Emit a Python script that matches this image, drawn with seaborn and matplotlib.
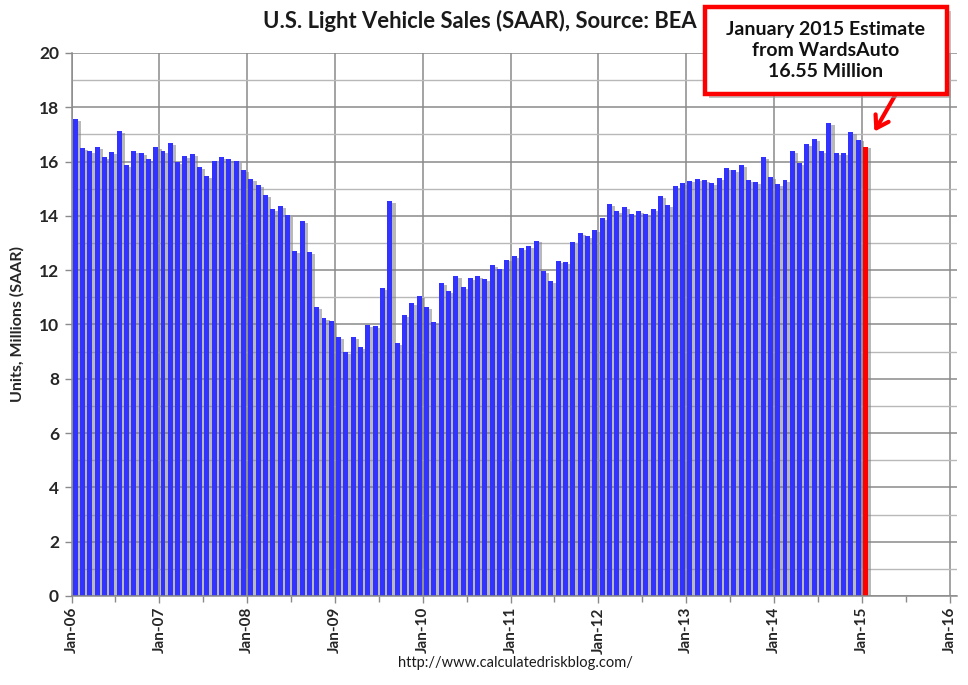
import numpy as np
import pandas as pd
import matplotlib
matplotlib.use("Agg")
import matplotlib.pyplot as plt
import matplotlib.patheffects as pe
from matplotlib.patches import Rectangle
import seaborn as sns

# ---- data (millions, SAAR), monthly Jan-2006 .. Jan-2015 ----
sales_2006 = [17.57, 16.50, 16.39, 16.54, 16.17, 16.35, 17.13, 15.87, 16.39, 16.32, 16.10, 16.54]
sales_2007 = [16.39, 16.68, 15.98, 16.21, 16.28, 15.80, 15.47, 16.02, 16.17, 16.10, 16.02, 15.69]
sales_2008 = [15.36, 15.14, 14.77, 14.25, 14.36, 14.03, 12.71, 13.81, 12.67, 10.64, 10.24, 10.13]
sales_2009 = [9.54, 8.99, 9.54, 9.17, 9.98, 9.94, 11.34, 14.55, 9.32, 10.35, 10.79, 11.05]
sales_2010 = [10.64, 10.09, 11.53, 11.23, 11.79, 11.38, 11.71, 11.79, 11.68, 12.19, 12.04, 12.38]
sales_2011 = [12.52, 12.82, 12.89, 13.08, 11.97, 11.60, 12.34, 12.30, 13.04, 13.37, 13.26, 13.48]
sales_2012 = [13.92, 14.44, 14.18, 14.33, 14.07, 14.18, 14.07, 14.25, 14.73, 14.40, 15.10, 15.21]
sales_2013 = [15.29, 15.36, 15.32, 15.21, 15.40, 15.76, 15.69, 15.87, 15.32, 15.25, 16.17, 15.43]
sales_2014 = [15.17, 15.32, 16.39, 15.95, 16.65, 16.83, 16.39, 17.42, 16.32, 16.32, 17.09, 16.80]
sales_2015 = [16.55]  # WardsAuto estimate

tick_years = ["06", "07", "08", "09", "10", "11", "12", "13", "14", "15", "16"]
tick_labels = ["Jan-" + y for y in tick_years]

values = (sales_2006 + sales_2007 + sales_2008 + sales_2009 + sales_2010 +
          sales_2011 + sales_2012 + sales_2013 + sales_2014 + sales_2015)
kind = ["BEA"] * (len(values) - len(sales_2015)) + ["Estimate"] * len(sales_2015)
df = pd.DataFrame({"month": np.arange(len(values)), "sales": values, "kind": kind})

# ---- style ----
sns.set_theme(style="white")
plt.rcParams["font.family"] = ["Lato", "DejaVu Sans"]

fig = plt.figure(figsize=(9.68, 6.85), dpi=100)
ax = fig.add_axes([0.0739, 0.130, 0.9147, 0.7927])

sns.barplot(data=df, x="month", y="sales", hue="kind", native_scale=True,
            palette={"BEA": "#3333FF", "Estimate": "#FF0000"}, dodge=False,
            width=0.68, legend=False, ax=ax, linewidth=0, saturation=1)

for p in ax.patches:
    p.set_path_effects([pe.SimplePatchShadow(offset=(2.4, -1.2), shadow_rgbFace="#808080", alpha=0.55),
                        pe.Normal()])

ax.set_xlim(-0.5, 120.5)
ax.set_ylim(0, 20)
major_x = [-0.5 + 12 * i for i in range(len(tick_labels))]
ax.set_xticks(major_x)
ax.set_xticklabels(tick_labels, rotation=90, fontsize=11, fontweight="bold")
ax.set_xticks([5.5 + 12 * i for i in range(len(tick_labels) - 1)], minor=True)
ax.set_yticks(np.arange(0, 21, 2))
ax.set_yticklabels([str(v) for v in range(0, 21, 2)], fontsize=12.5, fontweight="bold")
ax.set_yticks(np.arange(1, 20, 2), minor=True)

ax.grid(True, which="major", axis="both", color="#8a8a8a", linewidth=1.1)
ax.grid(True, which="minor", axis="y", color="#b8b8b8", linewidth=1.0)
ax.set_axisbelow(True)

ax.tick_params(axis="x", which="major", direction="out", length=5, width=1, color="#8a8a8a", pad=3, bottom=True)
ax.tick_params(axis="x", which="minor", direction="out", length=4, width=1, color="#8a8a8a", bottom=True)
ax.tick_params(axis="y", which="major", direction="out", length=5, width=1, color="#8a8a8a", pad=4, left=True)
ax.tick_params(axis="y", which="minor", length=0)

for s in ["top", "right"]:
    ax.spines[s].set_visible(False)
for s in ["left", "bottom"]:
    ax.spines[s].set_color("#8a8a8a")
    ax.spines[s].set_linewidth(1.1)

ax.set_xlabel("")
ax.set_ylabel("Units, Millions (SAAR)", fontsize=11.5, fontweight="bold", labelpad=10)

fig.text(0.496, 0.970, "U.S. Light Vehicle Sales (SAAR), Source: BEA", ha="center", va="center",
         fontsize=15.8, fontweight="bold", color="#1a1a1a")
fig.text(0.532, 0.032, "http://www.calculatedriskblog.com/", ha="center", va="center",
         fontsize=10.5, color="#1a1a1a")

# ---- callout box ----
bx, by, bw, bh = 705 / 968, 1 - 94 / 685, 242 / 968, 87 / 685
fig.patches.append(Rectangle((bx + 4 / 968, by - 4 / 685), bw, bh, transform=fig.transFigure,
                             facecolor="#9a9a9a", edgecolor="none", alpha=0.6, zorder=5))
fig.patches.append(Rectangle((bx, by), bw, bh, transform=fig.transFigure,
                             facecolor="white", edgecolor="#FF0000", linewidth=3.2, zorder=6))
fig.text(bx + bw / 2, by + bh / 2, "January 2015 Estimate\nfrom WardsAuto\n16.55 Million",
         ha="center", va="center", fontsize=14, fontweight="bold", color="#111111",
         linespacing=1.28, zorder=7)

ax.annotate("", xy=(873 / 968, 1 - 134 / 685), xycoords="figure fraction",
            xytext=(897 / 968, 1 - 92 / 685), textcoords="figure fraction",
            arrowprops=dict(arrowstyle="->,head_length=0.7,head_width=0.45", color="#FF0000", lw=3),
            annotation_clip=False)

fig.savefig("out.png", dpi=100)
